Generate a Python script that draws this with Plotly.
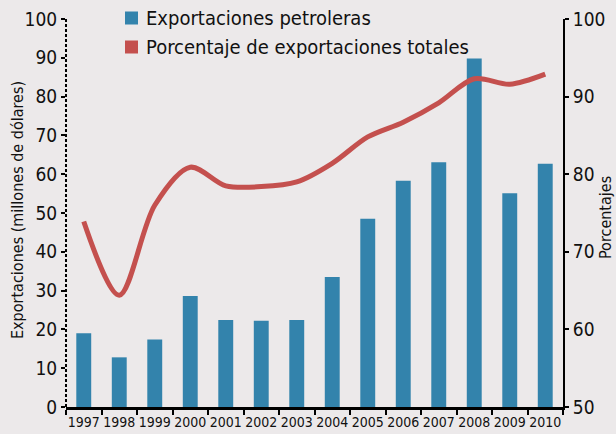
import plotly.graph_objects as go

# data
years = ["1997", "1998", "1999", "2000", "2001", "2002", "2003",
         "2004", "2005", "2006", "2007", "2008", "2009", "2010"]
oil_exports = [19.0, 12.8, 17.4, 28.6, 22.4, 22.2, 22.4,
               33.5, 48.5, 58.3, 63.1, 89.8, 55.1, 62.7]
pct_total = [73.9, 64.4, 76.0, 80.9, 78.5, 78.4, 79.0,
             81.4, 84.8, 86.7, 89.2, 92.3, 91.6, 92.9]

bar_name = "Exportaciones petroleras"
line_name = "Porcentaje de exportaciones totales"
left_title = "Exportaciones (millones de dólares)"
right_title = "Porcentajes"

bg = "#ECE9EA"
blue = "#3383AC"
red = "#C4504E"
font_family = "Liberation Sans Narrow, DejaVu Sans Condensed, Roboto Condensed, Arial Narrow, sans-serif"

W, H = 616, 434
L, R, T, B = 66, 53, 19, 27
pw, ph = W - L - R, H - T - B


def px(x):
    return (x - L) / pw


def py(y):
    return (H - B - y) / ph


fig = go.Figure()

fig.add_trace(go.Bar(x=years, y=oil_exports, name=bar_name,
                     marker=dict(color=blue, line=dict(width=0)),
                     width=0.42))
fig.add_trace(go.Scatter(x=years, y=pct_total, name=line_name, yaxis="y2",
                         mode="lines", line=dict(color=red, width=5, shape="spline", smoothing=0.9)))

fig.update_layout(
    width=W, height=H,
    margin=dict(l=L, r=R, t=T, b=B),
    paper_bgcolor=bg, plot_bgcolor=bg,
    font=dict(family=font_family, color="#111111", size=18),
    showlegend=False,
    xaxis=dict(type="category", tickson="boundaries", ticks="outside",
               ticklen=5, tickwidth=2, tickcolor="black", tickangle=0,
               showline=True, linecolor="black", linewidth=3,
               showgrid=False, tickfont=dict(size=14), automargin=False),
    yaxis=dict(range=[0, 100], dtick=10, ticks="outside", ticklen=4,
               tickwidth=2, tickcolor="black", showgrid=False,
               zeroline=False, showline=False, tickfont=dict(size=19),
               automargin=False),
    yaxis2=dict(range=[50, 100], dtick=10, overlaying="y", side="right",
                ticks="outside", ticklen=4, tickwidth=2, tickcolor="black",
                showline=True, linecolor="black", linewidth=2,
                showgrid=False, zeroline=False, tickfont=dict(size=19),
                automargin=False),
)

# axis titles as rotated annotations
fig.add_annotation(text=left_title, xref="paper", yref="paper", x=px(17), y=py(210),
                   xanchor="center", yanchor="middle", textangle=-90,
                   showarrow=False, font=dict(size=16))
fig.add_annotation(text=right_title, xref="paper", yref="paper", x=px(606), y=py(218),
                   xanchor="center", yanchor="middle", textangle=-90,
                   showarrow=False, font=dict(size=16))

# legend drawn by hand so it can sit above the plot area
for name, color, yc in [(bar_name, blue, 18), (line_name, red, 47)]:
    fig.add_shape(type="rect", xref="paper", yref="paper",
                  x0=px(125), x1=px(138), y0=py(yc + 6.5), y1=py(yc - 6.5),
                  fillcolor=color, line=dict(width=0))
    fig.add_annotation(text=name, xref="paper", yref="paper", x=px(144), y=py(yc),
                       xanchor="left", yanchor="middle", showarrow=False,
                       font=dict(size=20))

# dashed left axis line
fig.add_shape(type="line", xref="paper", yref="paper", x0=0, x1=0, y0=0, y1=1,
              line=dict(color="black", width=2, dash="3px,2px"))

# page body has a default 8px margin; drop it so the figure fills the window
fig.write_html("out.html", config={"displayModeBar": False},
               post_script="document.body.style.margin='0px';")
